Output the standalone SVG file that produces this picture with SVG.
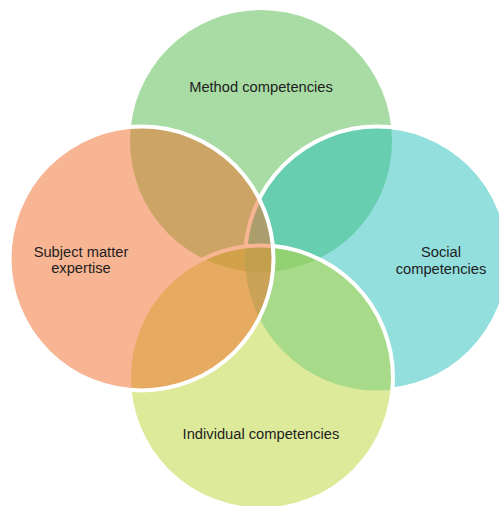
<svg xmlns="http://www.w3.org/2000/svg" width="499" height="506" viewBox="0 0 499 506">
  <style>
    .lbl{font-family:"Liberation Sans",Arial,sans-serif;font-size:14.7px;fill:#1e1e1e;text-anchor:middle}
    .disk{fill-opacity:0.5}
    .ring{fill:none;stroke:#ffffff;stroke-width:4}
  </style>
  <defs>
    <clipPath id="outsideBottom">
      <path clip-rule="evenodd" d="M0 0H499V506H0Z M129 377.5a132 132 0 1 0 264 0a132 132 0 1 0 -264 0Z"/>
    </clipPath>
  </defs>
  <rect width="499" height="506" fill="#ffffff"/>
  <g id="method">
    <circle class="disk" cx="261" cy="141" r="131" fill="#51B949"/>
    <text class="lbl" x="261" y="91.5">Method competencies</text>
  </g>
  <g id="social">
    <circle class="disk" cx="377" cy="258.5" r="132" fill="#27BFBB"/>
    <circle class="ring" cx="377" cy="258.5" r="132" clip-path="url(#outsideBottom)"/>
    <text class="lbl" x="441" y="256.7">Social</text>
    <text class="lbl" x="441" y="274">competencies</text>
  </g>
  <g id="individual">
    <circle class="disk" cx="261" cy="377.5" r="132" fill="#BBD535"/>
    <circle class="ring" cx="261" cy="377.5" r="132"/>
    <text class="lbl" x="261" y="439">Individual competencies</text>
  </g>
  <g id="subject">
    <circle class="disk" cx="141.5" cy="258.5" r="132" fill="#EF6B27"/>
    <circle class="ring" cx="141.5" cy="258.5" r="132"/>
    <text class="lbl" x="81" y="256.7">Subject matter</text>
    <text class="lbl" x="81" y="273.3">expertise</text>
  </g>
</svg>
